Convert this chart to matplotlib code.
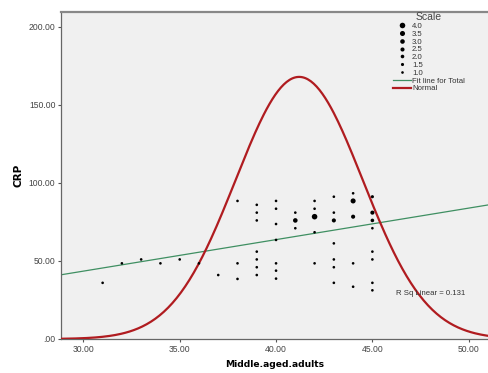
import numpy as np
import matplotlib
matplotlib.use("Agg")
from matplotlib import pyplot as plt
from matplotlib.lines import Line2D
from matplotlib.ticker import FuncFormatter

# scatter data: Middle.aged.adults vs CRP, with point weight (Scale)
age = [31, 32, 33, 34, 35, 36, 37, 38, 38, 38,
       39, 39, 39, 39, 39, 39, 39,
       40, 40, 40, 40, 40, 40, 40,
       41, 41, 41,
       42, 42, 42, 42, 42,
       43, 43, 43, 43, 43, 43, 43,
       44, 44, 44, 44, 44,
       45, 45, 45, 45, 45, 45, 45, 45]
crp = [36, 48.5, 51, 48.5, 51, 48.5, 41, 88.5, 48.5, 38.5,
       86, 81, 76, 56, 51, 46, 41,
       88.5, 83.5, 73.7, 63.5, 48.5, 43.8, 38.7,
       81, 76, 71,
       88.5, 83.5, 78.4, 68.4, 48.5,
       91.2, 81, 76, 61.3, 51, 46, 36,
       93.4, 88.5, 78.4, 48.5, 33.5,
       91.2, 81, 76, 71, 56, 51, 36, 31.2]
scale = [1, 1, 1, 1, 1, 1, 1, 1, 1, 1,
         1, 1, 1, 1, 1, 1, 1,
         1, 1, 1, 1, 1, 1, 1,
         1, 3, 1,
         1, 1, 4, 1, 1,
         1, 1, 2.5, 1, 1, 1, 1,
         1, 3.5, 2.5, 1, 1,
         1.5, 2.5, 2, 1, 1, 1, 1, 1]
legend_scales = [4.0, 3.5, 3.0, 2.5, 2.0, 1.5, 1.0]

# fit line and normal curve parameters
fit_slope = 2.02
fit_intercept = 63.7 - 2.02 * 40
r_sq = 0.131
norm_mean = 41.2
norm_sd = 3.3
norm_peak = 168

fit_color = "#3f8f62"
norm_color = "#b01c20"


def msize(v):
    # scatter area in points^2
    return (1.9 + (v - 1) * 0.7) ** 2


fig = plt.figure(figsize=(4.88, 3.73), dpi=100)
ax = fig.add_axes([61 / 488, 34 / 373, 427 / 488, 327 / 373])
ax.set_facecolor("#f0f0f0")

x_lo, x_hi = 28.84, 51.0
ax.set_xlim(x_lo, x_hi)
ax.set_ylim(0, 209.6)

xs = np.linspace(x_lo, x_hi, 300)
ax.plot(xs, fit_intercept + fit_slope * xs, color=fit_color, lw=0.9, zorder=2)
ax.plot(xs, norm_peak * np.exp(-(xs - norm_mean) ** 2 / (2 * norm_sd ** 2)),
        color=norm_color, lw=1.6, zorder=3)

ax.scatter(age, crp, s=[msize(v) for v in scale], color="black", lw=0, zorder=4)

ax.text(46.2, 29.3, "R Sq Linear = %.3f" % r_sq, fontsize=5.6, color="#333333",
        family="Liberation Sans", va="center", zorder=5)

# legend
handles = [Line2D([], [], ls="", marker="o", color="black", mec="none",
                  markersize=np.sqrt(msize(v))) for v in legend_scales]
labels = ["%.1f" % v for v in legend_scales]
handles += [Line2D([], [], color=fit_color, lw=0.9), Line2D([], [], color=norm_color, lw=1.6)]
labels += ["Fit line for Total", "Normal"]
leg = ax.legend(handles, labels, title="Scale", loc="upper left",
                bbox_to_anchor=(393 / 488, (373 - 12) / 373), bbox_transform=fig.transFigure,
                frameon=False, title_fontsize=7.5, labelspacing=0.05,
                handlelength=2.3, handletextpad=0.15, borderpad=0, borderaxespad=0,
                prop={"family": "Liberation Sans", "size": 5.6})
leg.get_title().set_color("#444444")
leg.get_title().set_family("Liberation Sans")
for t in leg.get_texts():
    t.set_color("#333333")

# ticks
ax.set_xticks([30, 35, 40, 45, 50])
ax.set_yticks([0, 50, 100, 150, 200])
fmt = FuncFormatter(lambda v, p: ("%.2f" % v).lstrip("0") if v == 0 else "%.2f" % v)
ax.xaxis.set_major_formatter(fmt)
ax.yaxis.set_major_formatter(fmt)
ax.tick_params(length=2.5, width=0.8, color="#555555", labelsize=6.2, labelcolor="#444444", pad=1.5)
for lab in ax.get_xticklabels() + ax.get_yticklabels():
    lab.set_family("Liberation Sans")

for s in ["left", "bottom"]:
    ax.spines[s].set_color("#666666")
    ax.spines[s].set_linewidth(0.9)
ax.spines["top"].set_color("#888888")
ax.spines["top"].set_linewidth(1.6)
ax.spines["right"].set_visible(False)

ax.set_ylabel("CRP", fontsize=7.5, fontweight="bold")
ax.yaxis.set_label_coords(-(61 - 24) / 427, 0.5)
ax.set_xlabel("Middle.aged.adults", fontsize=6.6, fontweight="bold")
ax.xaxis.set_label_coords(0.5, -0.064)

fig.savefig("out.png", dpi=100)
